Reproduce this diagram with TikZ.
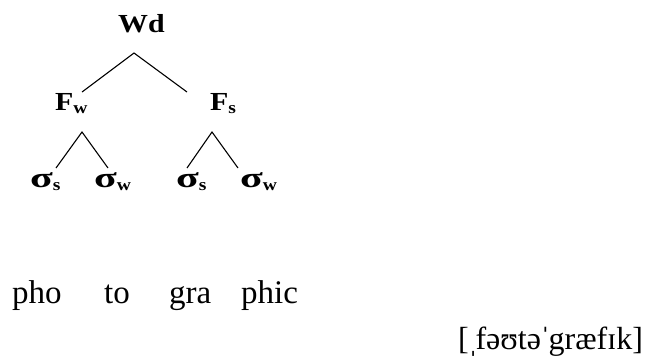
\documentclass[tikz,border=0pt]{standalone}
\usepackage{fontspec}
\setmainfont{Liberation Serif}
\newfontfamily\treefont[FakeStretch=1.15]{Liberation Serif}
\newcommand\lowsub[1]{\raisebox{-3pt}{\fontsize{17}{17}\selectfont #1}}
\newcommand\bigsig{\scalebox{1.4}[1.1]{σ}}

\begin{document}
\begin{tikzpicture}[
    x=1pt, y=-1pt,
    tree label/.style={anchor=base west, inner sep=0pt, font=\treefont\bfseries\fontsize{26}{26}\selectfont},
    syl label/.style={anchor=base west, inner sep=0pt, font=\fontsize{33}{33}\selectfont},
    ipa label/.style={anchor=base west, inner sep=0pt, font=\fontsize{32}{32}\selectfont},
    branch/.style={line width=1.1pt, draw=black}
]
\useasboundingbox (0,0) rectangle (647,359);

% metrical tree: word -> two feet -> four syllables
\node[tree label] (Wd)  at (118, 32) {Wd};
\node[tree label] (Fw)  at (55, 110) {F\lowsub{w}};
\node[tree label] (Fs)  at (210,110) {F\lowsub{s}};
\node[tree label] (S1)  at (30, 187) {\bigsig\lowsub{s}};
\node[tree label] (S2)  at (94, 187) {\bigsig\lowsub{w}};
\node[tree label] (S3)  at (176,187) {\bigsig\lowsub{s}};
\node[tree label] (S4)  at (240,187) {\bigsig\lowsub{w}};

% branch ends
\coordinate (Wd-apex) at (134, 53);
\coordinate (Fw-top)  at (82,  92);
\coordinate (Fs-top)  at (187, 92);
\coordinate (Fw-apex) at (82, 132);
\coordinate (Fs-apex) at (212,132);
\coordinate (S1-top)  at (56, 168);
\coordinate (S2-top)  at (108,168);
\coordinate (S3-top)  at (187,168);
\coordinate (S4-top)  at (238,168);

\draw[branch] (Fw-top) -- (Wd-apex) -- (Fs-top);
\draw[branch] (S1-top) -- (Fw-apex) -- (S2-top);
\draw[branch] (S3-top) -- (Fs-apex) -- (S4-top);

% syllables and transcription
\node[syl label] (pho)  at (12, 303) {pho};
\node[syl label] (to)   at (104,303) {to};
\node[syl label] (gra)  at (169,303) {gra};
\node[syl label] (phic) at (241,303) {phic};
\node[ipa label] (ipa)  at (458,349) {[\kern-1ptˌ\kern-3ptfəʊtə\kern-1ptˈ\kern-2ptgræfɪk]};

\end{tikzpicture}
\end{document}
